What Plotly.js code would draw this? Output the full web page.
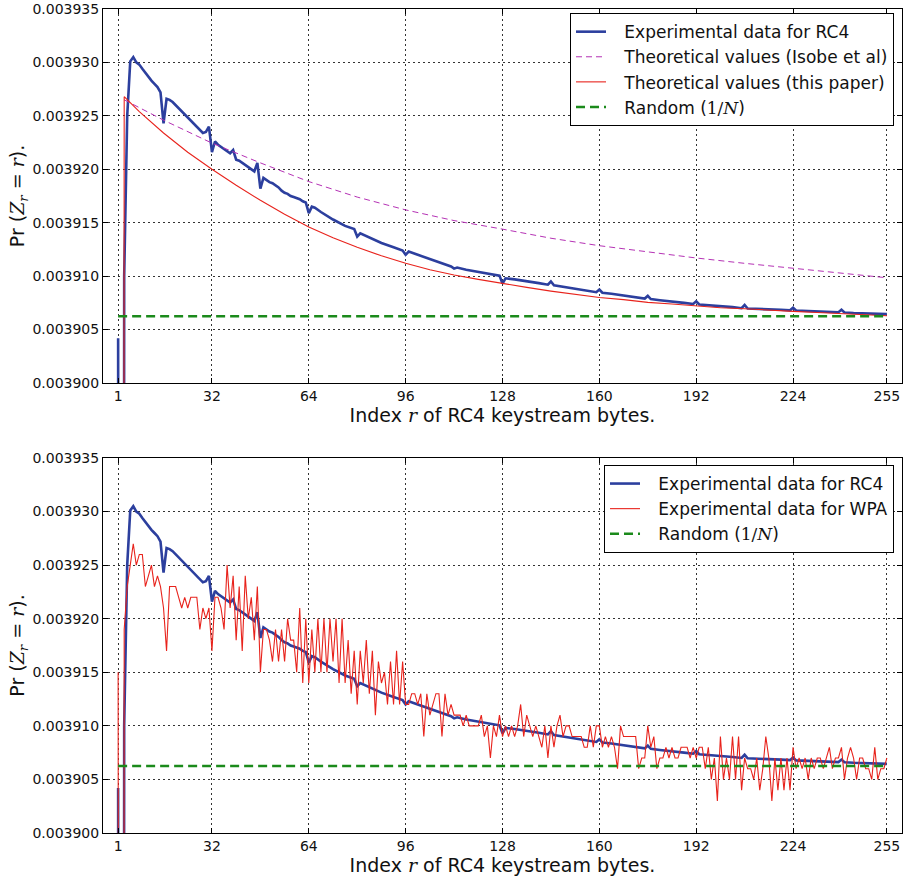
<!DOCTYPE html>
<html><head><meta charset="utf-8">
<script src="https://cdn.plot.ly/plotly-3.0.1.min.js"></script>
<style>html,body{margin:0;padding:0;background:#fff}</style>
</head><body><div id="chart" style="width:905px;height:878px"></div>
<script>
// Experimental data for RC4 (index r, Pr(Z_r = r))
const rc4X = [1,2,3,4,5,6,7,8,9,10,11,12,13,14,15,16,17,18,19,20,21,22,23,24,25,26,27,28,29,30,
  31,32,33,34,35,36,37,38,39,40,41,42,43,44,45,46,47,48,49,50,51,52,53,54,55,56,57,58,59,60,
  61,62,63,64,65,66,68,72,76,79,80,81,84,88,92,95,96,97,100,104,108,111,112,113,116,120,124,127,128,129,
  132,136,140,143,144,145,148,152,156,159,160,161,164,168,172,175,176,177,180,184,188,191,192,193,
  196,200,204,207,208,209,212,216,220,223,224,225,228,232,236,239,240,241,244,248,252,255];
const rc4Y = [0.0039042,0.0035,0.003910,0.003925,0.0039301,0.0039305,0.0039300,0.0039298,0.0039294,0.0039290,
  0.0039286,0.0039283,0.0039280,0.0039277,0.0039272,0.0039243,0.0039266,0.0039265,0.0039263,0.0039260,
  0.0039257,0.0039254,0.0039251,0.0039249,0.0039246,0.0039243,0.0039240,0.0039237,0.0039234,0.0039235,
  0.0039240,0.0039216,0.0039226,0.0039223,0.0039221,0.0039219,0.0039217,0.0039215,0.0039218,0.0039209,
  0.0039208,0.0039206,0.0039204,0.0039202,0.0039200,0.0039198,0.0039206,0.0039182,0.0039192,0.0039190,
  0.0039188,0.0039187,0.0039185,0.0039183,0.0039180,0.0039178,0.0039177,0.0039175,0.0039174,0.0039173,
  0.0039172,0.0039170,0.0039169,0.0039159,0.0039165,0.0039164,0.0039160,0.0039153,0.0039147,0.0039144,
  0.0039137,0.0039140,0.0039136,0.0039131,0.0039127,0.0039124,0.0039120,0.0039123,0.0039120,0.0039116,
  0.0039112,0.0039109,0.0039107,0.0039108,0.0039106,0.0039104,0.0039102,0.00391005,0.0039093,0.0039098,
  0.0039097,0.00390955,0.00390935,0.0039092,0.0039095,0.00390915,0.0039090,0.00390885,0.00390865,0.0039085,
  0.00390875,0.00390845,0.00390835,0.0039082,0.00390805,0.0039079,0.00390815,0.00390785,0.00390775,0.00390765,
  0.0039075,0.0039074,0.00390765,0.00390735,0.0039073,0.0039072,0.0039071,0.0039070,0.0039073,0.00390697,
  0.00390695,0.0039069,0.00390685,0.0039068,0.00390705,0.00390678,0.00390675,0.0039067,0.00390665,0.00390662,
  0.00390685,0.0039066,0.00390655,0.0039065,0.00390647,0.00390645];

// Theoretical values (Isobe et al)
const isobeX = [3,16,32,48,64,80,96,112,128,144,160,176,192,208,224,240,255];
const isobeY = [0.0039265,0.0039246,0.00392245,0.0039206,0.00391885,0.0039174,0.0039162,0.0039152,0.0039144,
  0.00391355,0.00391285,0.00391225,0.0039117,0.0039112,0.00391075,0.0039103,0.00390985];

// Theoretical values (this paper)
const theoryX = [2,3,8,16,24,32,40,48,56,64,72,80,88,96,104,112,120,128,136,144,152,160,168,176,184,192,200,208,216,224,232,240,248,255];
const theoryY = [0.0035,0.0039268,0.0039254,0.0039234,0.0039216,0.0039200,0.0039185,0.0039171,0.0039158,0.0039146,
  0.0039136,0.0039127,0.0039119,0.0039112,0.0039106,0.0039101,0.0039097,0.0039093,0.00390895,0.0039086,
  0.0039083,0.0039080,0.0039078,0.00390755,0.0039074,0.0039072,0.00390705,0.00390695,0.0039068,0.0039067,
  0.0039066,0.0039065,0.00390642,0.0039063];

// Experimental data for WPA, r = 1..255
const wpaY = [0.003915,0.0035,0.003919,0.003923,0.003925,0.003927,0.003925,0.003926,0.003926,0.003923,
  0.003924,0.003925,0.003923,0.003924,0.003923,0.003921,0.003917,0.003923,0.003923,0.003923,
  0.003922,0.003921,0.003922,0.003921,0.003922,0.003922,0.003922,0.003919,0.003921,0.003920,
  0.003921,0.003917,0.003922,0.003922,0.003921,0.003919,0.003925,0.003921,0.003924,0.003918,
  0.003923,0.003917,0.003924,0.003920,0.003922,0.003918,0.003923,0.003915,0.003919,0.003919,
  0.003918,0.003916,0.003919,0.003916,0.003919,0.003916,0.003920,0.003918,0.003918,0.003915,
  0.003921,0.003914,0.003920,0.003914,0.003919,0.003915,0.003920,0.003915,0.003920,0.003915,
  0.003920,0.003916,0.003920,0.003914,0.003920,0.003914,0.003918,0.003913,0.003917,0.003912,
  0.003917,0.003914,0.003918,0.003913,0.003917,0.003911,0.003916,0.003914,0.003915,0.003912,
  0.003916,0.003912,0.003917,0.003912,0.003916,0.003912,0.003912,0.003913,0.003913,0.003912,
  0.003913,0.003909,0.003913,0.003911,0.003912,0.003913,0.003913,0.003909,0.003913,0.003911,
  0.003912,0.003911,0.003911,0.003911,0.003910,0.003911,0.003910,0.003910,0.003910,0.003910,
  0.003911,0.003909,0.003910,0.003907,0.003910,0.003909,0.003911,0.003909,0.003910,0.003909,
  0.003910,0.003909,0.003910,0.003912,0.003909,0.003911,0.003910,0.003909,0.003910,0.003909,
  0.003908,0.003910,0.003907,0.003910,0.003908,0.003910,0.003911,0.003909,0.003910,0.003910,
  0.003909,0.003909,0.003909,0.003909,0.003908,0.003908,0.003910,0.003908,0.003910,0.003910,
  0.003908,0.003909,0.003908,0.003909,0.003908,0.003906,0.003910,0.003909,0.003909,0.003909,
  0.003909,0.003909,0.003906,0.003907,0.003907,0.003910,0.003908,0.003909,0.003906,0.003907,
  0.003907,0.003908,0.003907,0.003908,0.003907,0.003907,0.003908,0.003908,0.003908,0.003907,
  0.003908,0.003907,0.003908,0.003908,0.003906,0.003908,0.003905,0.003907,0.003903,0.003909,
  0.003905,0.003907,0.003905,0.003909,0.003905,0.003909,0.003904,0.003907,0.003906,0.003906,
  0.003905,0.003907,0.003904,0.003906,0.003909,0.003907,0.003903,0.003907,0.003904,0.003907,
  0.003904,0.003907,0.003904,0.003908,0.003906,0.003907,0.003906,0.003907,0.003905,0.003907,
  0.003906,0.003907,0.003907,0.003906,0.003907,0.003908,0.003906,0.003907,0.003907,0.003908,
  0.003905,0.003907,0.003908,0.003907,0.003905,0.003907,0.003907,0.003906,0.003906,0.003905,
  0.003908,0.003905,0.003906,0.003906,0.003907];
const wpaX = wpaY.map((_, i) => i + 1);

// Random (1/N), N = 256
const randomX = [1, 255];
const randomY = [0.00390625, 0.00390625];

const xTicks = [1, 32, 64, 96, 128, 160, 192, 224, 255];
const yTicks = [0.003900, 0.003905, 0.003910, 0.003915, 0.003920, 0.003925, 0.003930, 0.003935];

const BLUE = '#2c3f9e', RED = '#e8231c', MAG = '#b532b5', GREEN = '#1b8a1b';
const SERIF = 'font-family:DejaVu Serif';
const FONT = 'DejaVu Sans';
const PAD = '<span style="font-size:14px">&nbsp;&nbsp;&nbsp;</span>';

const traces = [
  {x: rc4X, y: rc4Y, xaxis: 'x', yaxis: 'y', mode: 'lines', name: PAD + 'Experimental data for RC4',
   line: {color: BLUE, width: 2.6}, legend: 'legend'},
  {x: isobeX, y: isobeY, xaxis: 'x', yaxis: 'y', mode: 'lines', name: PAD + 'Theoretical values (Isobe et al)',
   line: {color: MAG, width: 1, dash: '6px,4px'}, legend: 'legend'},
  {x: theoryX, y: theoryY, xaxis: 'x', yaxis: 'y', mode: 'lines', name: PAD + 'Theoretical values (this paper)',
   line: {color: RED, width: 1.1}, legend: 'legend'},
  {x: randomX, y: randomY, xaxis: 'x', yaxis: 'y', mode: 'lines',
   name: PAD + 'Random (<span style="' + SERIF + '">1/<i>N</i></span>)',
   line: {color: GREEN, width: 2.6, dash: '9px,5px'}, legend: 'legend'},

  {x: rc4X, y: rc4Y, xaxis: 'x2', yaxis: 'y2', mode: 'lines', name: PAD + 'Experimental data for RC4',
   line: {color: BLUE, width: 2.6}, legend: 'legend2'},
  {x: wpaX, y: wpaY, xaxis: 'x2', yaxis: 'y2', mode: 'lines', name: PAD + 'Experimental data for WPA',
   line: {color: RED, width: 1.1}, legend: 'legend2'},
  {x: randomX, y: randomY, xaxis: 'x2', yaxis: 'y2', mode: 'lines',
   name: PAD + 'Random (<span style="' + SERIF + '">1/<i>N</i></span>)',
   line: {color: GREEN, width: 2.6, dash: '9px,5px'}, legend: 'legend2'}
];

const xTitle = 'Index <span style="' + SERIF + '"><i>r</i></span> of RC4 keystream bytes.';
const yTitle = 'Pr (<span style="' + SERIF + '"><i>Z</i><sub><i>r</i></sub> = <i>r</i></span>).';

function xAxis(anchor) {
  return {
    anchor: anchor, domain: [0, 1], range: [-4, 260],
    tickmode: 'array', tickvals: xTicks, ticktext: xTicks.map(String),
    ticks: 'inside', ticklen: 5, tickcolor: '#000', tickwidth: 1,
    showline: true, linecolor: '#000', linewidth: 1, mirror: 'ticks',
    showgrid: true, gridcolor: '#000', gridwidth: 0.8, griddash: '2px,3px',
    zeroline: false, tickfont: {family: FONT, size: 14, color: '#111'},
    title: {text: xTitle, font: {family: FONT, size: 19, color: '#111'}, standoff: 2}
  };
}
function yAxis(anchor, domain) {
  return {
    anchor: anchor, domain: domain, range: [0.0039, 0.003935],
    tickmode: 'array', tickvals: yTicks, ticktext: yTicks.map(v => v.toFixed(6)),
    ticks: 'inside', ticklen: 5, tickcolor: '#000', tickwidth: 1,
    showline: true, linecolor: '#000', linewidth: 1, mirror: 'ticks',
    showgrid: true, gridcolor: '#000', gridwidth: 0.8, griddash: '2px,3px',
    zeroline: false, tickfont: {family: FONT, size: 14, color: '#111'},
    title: {text: yTitle, font: {family: FONT, size: 19, color: '#111'}, standoff: 2}
  };
}

const legendBase = {
  xanchor: 'right', yanchor: 'top', bgcolor: '#fff', bordercolor: '#000', borderwidth: 1,
  font: {family: FONT, size: 17, color: '#111'}, tracegroupgap: 0, itemwidth: 30
};

const layout = {
  width: 905, height: 878,
  margin: {l: 103, r: 3, t: 9, b: 45},
  paper_bgcolor: '#fff', plot_bgcolor: '#fff',
  showlegend: true,
  xaxis: xAxis('y'),
  yaxis: yAxis('x', [0.5461, 1]),
  xaxis2: xAxis('y2'),
  yaxis2: yAxis('x2', [0, 0.4551]),
  legend: Object.assign({}, legendBase, {x: 0.99, y: 0.995}),
  legend2: Object.assign({}, legendBase, {x: 0.99, y: 0.4466})
};

Plotly.newPlot('chart', traces, layout, {displayModeBar: false, staticPlot: true});
</script></body></html>
